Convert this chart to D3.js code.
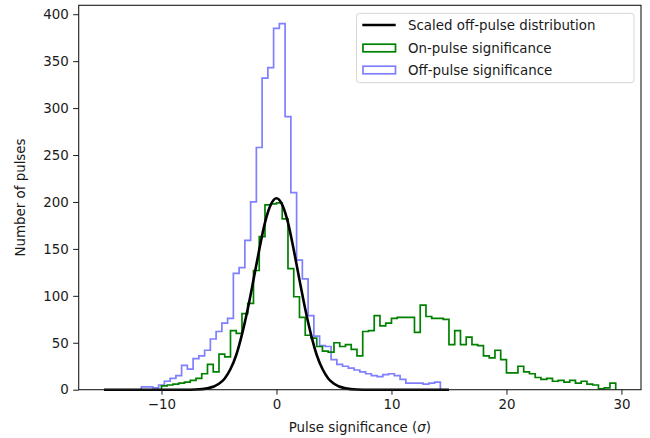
<!DOCTYPE html>
<html>
<head>
<meta charset="utf-8">
<script src="https://cdn.jsdelivr.net/npm/d3@7"></script>
<style>
    body { margin: 0; background: #fff; }
    svg { font-family: "DejaVu Sans", sans-serif; }
</style>
</head>
<body>
<svg id="chart"></svg>
<script>
// histogram counts, bins of width 0.5
const binWidth = 0.5
const offPulseStart = -11.75
const offPulseCounts = [3, 3, 2, 5, 9, 12, 15, 26, 22, 33, 36, 42, 54, 62, 71, 76, 124, 130, 159, 200,
    258, 332, 343, 385, 390, 291, 210, 138, 118, 79, 57, 47, 46, 32, 27, 25, 23, 21, 19, 17,
    15, 14, 16, 17, 15, 11, 7, 7, 7, 6, 7, 8]

const onPulseStart = -10
const onPulseCounts = [4, 5, 6, 7, 8, 10, 12, 17, 27, 19, 38, 35, 63, 60, 81, 92, 127, 163, 197, 198,
    199, 182, 129, 99, 77, 58, 55, 46, 41, 40, 50, 46, 48, 43, 36, 62, 63, 79, 68, 71,
    76, 77, 77, 77, 61, 90, 78, 76, 76, 75, 48, 63, 48, 56, 48, 47, 36, 34, 42, 32,
    18, 18, 25, 19, 17, 13, 11, 12, 9, 10, 8, 10, 7, 9, 6, 5, 1, 2, 7]

// scaled off-pulse curve
const curveX = [-15, -8, -7, -6, -5, -4.5, -4, -3.5, -3, -2.5, -2, -1.5, -1, -0.5, 0,
    0.5, 1, 1.5, 2, 2.5, 3, 3.5, 4, 4.5, 5, 6, 7, 8, 15]
const curveY = [0, 0, 0.2, 1.4, 6.4, 12, 22, 37, 59, 86, 117, 149, 178, 197, 204,
    197, 178, 149, 117, 86, 59, 37, 22, 12, 6.4, 1.4, 0.2, 0, 0]

const xTicks = [-10, 0, 10, 20, 30]
const yTicks = [0, 50, 100, 150, 200, 250, 300, 350, 400]
const legendLabels = ["Scaled off-pulse distribution", "On-pulse significance", "Off-pulse significance"]

const width = 650, height = 438
const margins = {left: 78.7, right: 9, top: 5.3, bottom: 48.3}
const fontSize = 13.4

const svg = d3.select("#chart").attr("width", width).attr("height", height)

const scaleX = d3.scaleLinear().domain([-17.2, 31.7]).range([margins.left, width - margins.right])
const scaleY = d3.scaleLinear().domain([0, 409.5]).range([height - margins.bottom, margins.top])

function stepPath(start, counts) {
    let pts = [[start, 0]]
    counts.forEach((c, i) => {
        pts.push([start + i * binWidth, c])
        pts.push([start + (i + 1) * binWidth, c])
    })
    pts.push([start + counts.length * binWidth, 0])
    return d3.line().x(d => scaleX(d[0])).y(d => scaleY(d[1]))(pts)
}

let plot = svg.append("g")
plot.append("path").attr("d", stepPath(offPulseStart, offPulseCounts))
    .attr("fill", "none").attr("stroke", "#7f7fff").attr("stroke-width", 1.7)
plot.append("path").attr("d", stepPath(onPulseStart, onPulseCounts))
    .attr("fill", "none").attr("stroke", "#008000").attr("stroke-width", 1.7)

let curveLine = d3.line().x(d => scaleX(d[0])).y(d => scaleY(d[1])).curve(d3.curveMonotoneX)
plot.append("path").attr("d", curveLine(curveX.map((x, i) => [x, curveY[i]])))
    .attr("fill", "none").attr("stroke", "black").attr("stroke-width", 2.6)

// axes
let xAxis = d3.axisBottom(scaleX).tickValues(xTicks).tickSize(5).tickPadding(4.5).tickSizeOuter(0)
let yAxis = d3.axisLeft(scaleY).tickValues(yTicks).tickSize(5.5).tickPadding(4.5).tickSizeOuter(0)

svg.append("g").attr("transform", `translate(0, ${height - margins.bottom})`).call(xAxis)
svg.append("g").attr("transform", `translate(${margins.left}, 0)`).call(yAxis)

svg.selectAll(".tick text").attr("font-size", fontSize).attr("font-family", "DejaVu Sans").attr("fill", "#1a1a1a")
svg.selectAll(".domain").remove()
svg.selectAll(".tick line").attr("stroke", "#1a1a1a").attr("stroke-width", 1)

svg.append("rect")
    .attr("x", margins.left).attr("y", margins.top)
    .attr("width", width - margins.right - margins.left)
    .attr("height", height - margins.bottom - margins.top)
    .attr("fill", "none").attr("stroke", "#1a1a1a").attr("stroke-width", 1.1)

// axis labels
let xLabel = svg.append("text")
    .attr("x", (margins.left + width - margins.right) / 2).attr("y", 432)
    .attr("text-anchor", "middle").attr("font-size", fontSize).attr("fill", "#1a1a1a")
xLabel.append("tspan").text("Pulse significance (")
xLabel.append("tspan").text("σ").attr("font-style", "italic")
xLabel.append("tspan").text(")")
svg.append("text").text("Number of pulses")
    .attr("transform", `translate(25, ${(margins.top + height - margins.bottom) / 2}) rotate(-90)`)
    .attr("text-anchor", "middle").attr("font-size", fontSize).attr("fill", "#1a1a1a")

// legend
let legend = svg.append("g")
legend.append("rect").attr("x", 356.5).attr("y", 13.3).attr("width", 277.5).attr("height", 69.4)
    .attr("rx", 3).attr("fill", "white").attr("fill-opacity", 0.8)
    .attr("stroke", "#d6d6d6").attr("stroke-width", 1)
let rowsY = [25, 48, 70]
legend.append("line").attr("x1", 362.3).attr("x2", 395.7).attr("y1", rowsY[0]).attr("y2", rowsY[0])
    .attr("stroke", "black").attr("stroke-width", 2.6)
let rectColors = ["#008000", "#7f7fff"]
rectColors.forEach((c, i) => {
    legend.append("rect").attr("x", 363).attr("y", rowsY[i + 1] - 3.8).attr("width", 32.5).attr("height", 7.6)
        .attr("fill", "none").attr("stroke", c).attr("stroke-width", 1.7)
})
legend.selectAll("text.lab").data(legendLabels).join("text")
    .attr("class", "lab")
    .text(d => d)
    .attr("x", 408).attr("y", (d, i) => rowsY[i] + 4.8)
    .attr("font-size", fontSize).attr("fill", "#1a1a1a")
</script>
</body>
</html>
